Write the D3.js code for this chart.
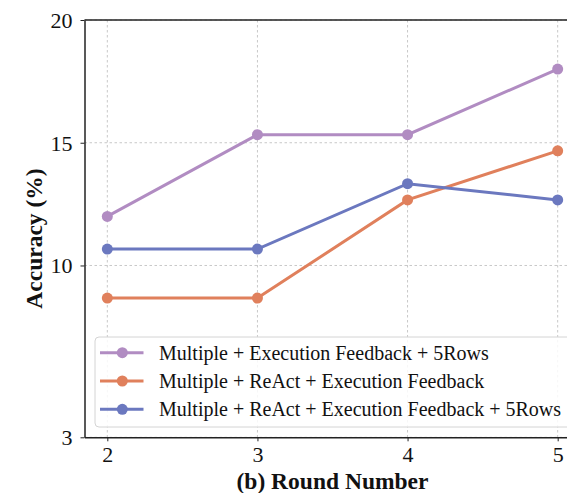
<!DOCTYPE html>
<html>
<head>
<meta charset="utf-8">
<script src="https://cdn.jsdelivr.net/npm/d3@7"></script>
<style>
  body { margin: 0; background: #fff; }
  svg { display: block; font-family: 'Liberation Serif', 'Times New Roman', serif; }
</style>
</head>
<body>
<svg id="chart" width="567" height="493"></svg>
<script>
var rounds = [2, 3, 4, 5]
var seriesNames = [
  'Multiple + Execution Feedback + 5Rows',
  'Multiple + ReAct + Execution Feedback',
  'Multiple + ReAct + Execution Feedback + 5Rows'
]
var execRows = [12.0, 15.33, 15.33, 18.0]
var reactExec = [8.67, 8.67, 12.67, 14.67]
var reactExecRows = [10.67, 10.67, 13.33, 12.67]
var colors = ['#b18cc2', '#e0805c', '#6b78bf']
var yTicks = [3, 10, 15, 20]

var svg = d3.select('#chart')
var margin = {left: 84.5, top: 20, right: 580.5, bottom: 437.3}

var x = d3.scaleLinear().domain([1.848, 5.152]).range([margin.left, margin.right])
var y = d3.scaleLinear().domain([3, 20]).range([margin.bottom, margin.top])

var series = [execRows, reactExec, reactExecRows].map((vals, i) => ({
  name: seriesNames[i],
  color: colors[i],
  points: rounds.map((r, j) => ({x: r, y: vals[j]}))
}))

/*
    grid
*/
var grid = svg.append('g').attr('class', 'grid')
grid.selectAll('.gx').data(rounds).enter().append('line')
    .attr('x1', d => x(d)).attr('x2', d => x(d))
    .attr('y1', margin.top).attr('y2', margin.bottom)
grid.selectAll('.gy').data(yTicks).enter().append('line')
    .attr('x1', margin.left).attr('x2', margin.right)
    .attr('y1', d => y(d)).attr('y2', d => y(d))
grid.selectAll('line')
    .attr('stroke', '#c8c8c8')
    .attr('stroke-width', 1)
    .attr('stroke-dasharray', '2.5,2.5')

/*
    lines + markers
*/
var line = d3.line().x(d => x(d.x)).y(d => y(d.y))
var g = svg.selectAll('.series').data(series).enter().append('g').attr('class', 'series')
g.append('path')
    .attr('d', d => line(d.points))
    .attr('fill', 'none')
    .attr('stroke', d => d.color)
    .attr('stroke-width', 3)
g.selectAll('circle').data(d => d.points.map(p => ({p: p, c: d.color}))).enter().append('circle')
    .attr('cx', d => x(d.p.x))
    .attr('cy', d => y(d.p.y))
    .attr('r', 5.5)
    .attr('fill', d => d.c)

/*
    axes
*/
var xAxis = svg.append('g')
    .attr('transform', `translate(0,${margin.bottom})`)
    .call(d3.axisBottom(x).tickValues(rounds).tickFormat(d3.format('d')).tickSize(4).tickSizeOuter(0))
var yAxis = svg.append('g')
    .attr('transform', `translate(${margin.left},0)`)
    .call(d3.axisLeft(y).tickValues(yTicks).tickFormat(d3.format('d')).tickSize(4).tickSizeOuter(0))

;[xAxis, yAxis].forEach(a => {
  a.select('.domain').attr('stroke', '#222').attr('stroke-width', 1.5)
  a.selectAll('.tick line').attr('stroke', '#222').attr('stroke-width', 1)
  a.selectAll('.tick text')
      .attr('font-family', "'Liberation Serif', serif")
      .attr('font-size', 22)
      .attr('fill', '#111')
})
xAxis.selectAll('.tick text').attr('dy', 0).attr('y', 25.2)
yAxis.selectAll('.tick text').attr('x', -12).attr('dy', '0.34em')

// top spine
svg.append('line')
    .attr('x1', margin.left).attr('x2', margin.right)
    .attr('y1', margin.top).attr('y2', margin.top)
    .attr('stroke', '#222').attr('stroke-width', 1.5)

/*
    labels
*/
svg.append('text')
    .attr('x', (margin.left + margin.right) / 2)
    .attr('y', 488.5)
    .attr('text-anchor', 'middle')
    .attr('font-weight', 'bold')
    .attr('font-size', 23.5)
    .attr('fill', '#111')
    .text('(b) Round Number')

svg.append('text')
    .attr('transform', 'translate(42,238.5) rotate(-90)')
    .attr('text-anchor', 'middle')
    .attr('font-weight', 'bold')
    .attr('font-size', 23.5)
    .attr('fill', '#111')
    .text('Accuracy (%)')

/*
    legend
*/
var leg = svg.append('g').attr('transform', 'translate(95,337)')
leg.append('rect')
    .attr('width', 480).attr('height', 90)
    .attr('rx', 4)
    .attr('fill', 'rgba(255,255,255,0.85)')
    .attr('stroke', '#d4d4d4')
    .attr('stroke-width', 1)
var items = leg.selectAll('.item').data(series).enter().append('g')
    .attr('transform', (d, i) => `translate(0,${15.7 + i * 28.3})`)
items.append('line')
    .attr('x1', 5).attr('x2', 48.5)
    .attr('stroke', d => d.color).attr('stroke-width', 3)
items.append('circle')
    .attr('cx', 27.3).attr('r', 5.5)
    .attr('fill', d => d.color)
items.append('text')
    .attr('x', 64)
    .attr('dy', '0.35em')
    .attr('font-size', 20)
    .attr('fill', '#111')
    .text(d => d.name)
</script>
</body>
</html>
